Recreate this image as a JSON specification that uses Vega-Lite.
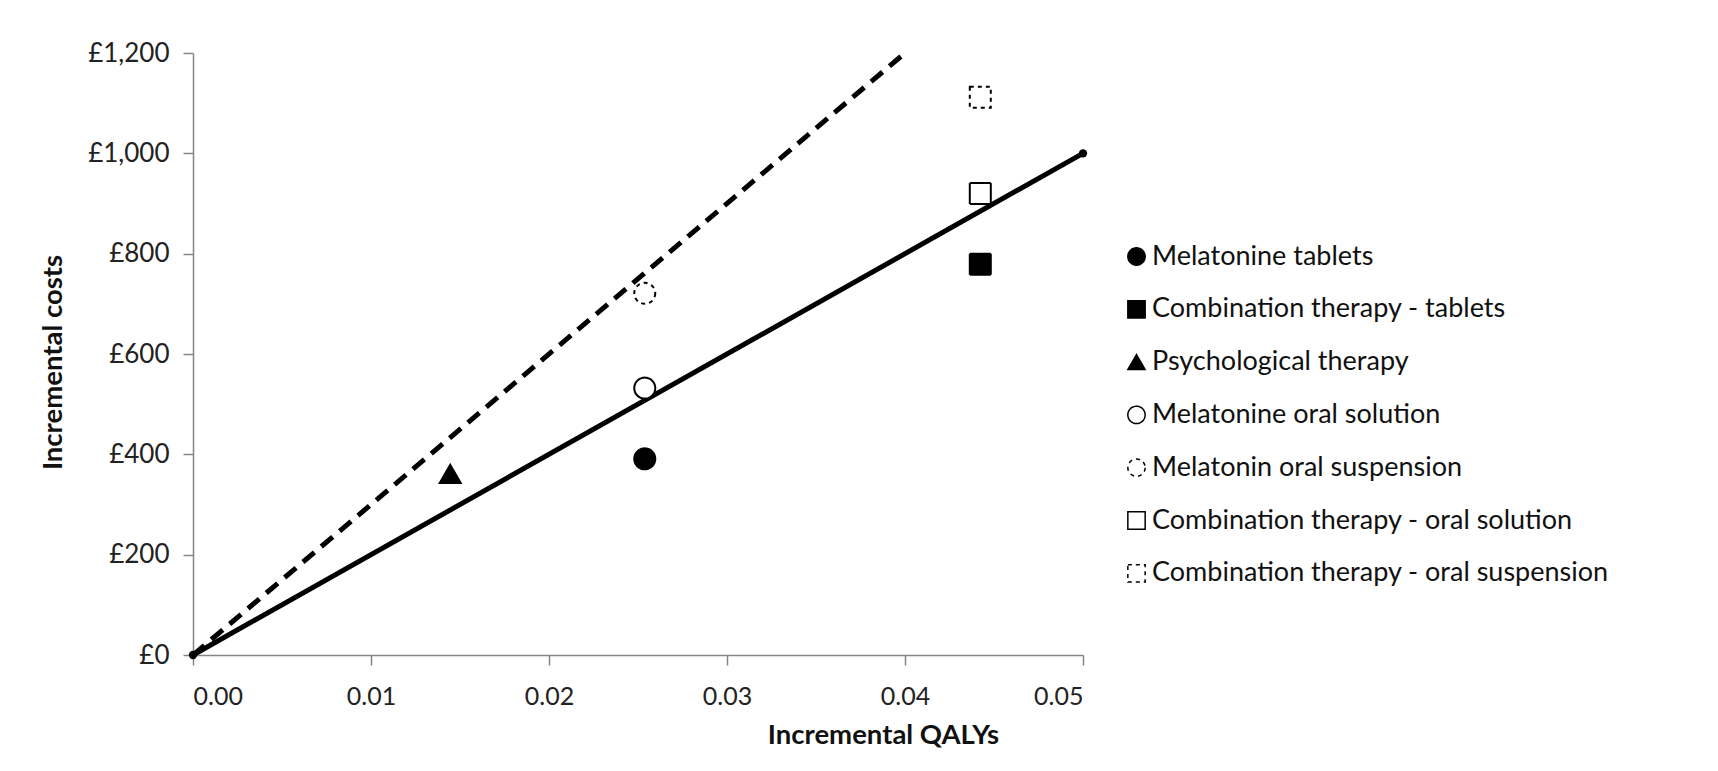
{
  "$schema": "https://vega.github.io/schema/vega-lite/v6.json",
  "autosize": "none",
  "width": 890,
  "height": 602,
  "padding": {"left": 193, "top": 53, "right": 635, "bottom": 116},
  "background": "white",
  "config": {
    "font": "Lato",
    "view": {"stroke": null},
    "axis": {
      "grid": false,
      "domainColor": "#868686",
      "domainWidth": 1.5,
      "tickColor": "#868686",
      "tickWidth": 1.5,
      "tickSize": 10,
      "labelFont": "Lato",
      "labelFontSize": 25,
      "labelColor": "#222222",
      "titleFont": "Lato",
      "titleFontSize": 27.5,
      "titleFontWeight": "bold",
      "titleColor": "#111111"
    },
    "legend": {
      "labelFont": "Lato",
      "labelFontSize": 27,
      "labelColor": "#111111",
      "labelLimit": 0
    }
  },
  "datasets": {
    "points": [
      {"series": "Melatonine tablets", "qaly": 0.02538, "cost": 391},
      {"series": "Combination therapy - tablets", "qaly": 0.04423, "cost": 779},
      {"series": "Psychological therapy", "qaly": 0.01445, "cost": 361},
      {"series": "Melatonine oral solution", "qaly": 0.02538, "cost": 532},
      {"series": "Melatonin oral suspension", "qaly": 0.02538, "cost": 721},
      {"series": "Combination therapy - oral solution", "qaly": 0.04423, "cost": 920},
      {"series": "Combination therapy - oral suspension", "qaly": 0.04423, "cost": 1112}
    ],
    "lines": [
      {"threshold": "20000", "qaly": 0, "cost": 0},
      {"threshold": "20000", "qaly": 0.05, "cost": 1000},
      {"threshold": "30000", "qaly": 0, "cost": 0},
      {"threshold": "30000", "qaly": 0.04, "cost": 1200}
    ]
  },
  "layer": [
    {
      "data": {"name": "lines"},
      "transform": [{"filter": "datum.threshold == '30000'"}],
      "mark": {"type": "line", "color": "black", "strokeWidth": 5, "strokeDash": [15, 9], "clip": true},
      "encoding": {
        "x": {"field": "qaly", "type": "quantitative", "scale": {"domain": [0, 0.05], "nice": false},
          "axis": {"title": "Incremental QALYs", "values": [0, 0.01, 0.02, 0.03, 0.04, 0.05], "format": ".2f", "labelPadding": 19, "titleX": 690, "titleY": 80, "titleBaseline": "middle"}},
        "y": {"field": "cost", "type": "quantitative", "scale": {"domain": [0, 1200], "nice": false},
          "axis": {"title": "Incremental costs", "values": [0, 200, 400, 600, 800, 1000, 1200], "labelExpr": "'£' + format(datum.value, ',.0f')", "labelPadding": 14, "labelFontSize": 26, "titleX": -140, "titleY": 309, "titleBaseline": "middle"}}
      }
    },
    {
      "data": {"name": "lines"},
      "transform": [{"filter": "datum.threshold == '20000'"}],
      "mark": {"type": "line", "color": "black", "strokeWidth": 5},
      "encoding": {
        "x": {"field": "qaly", "type": "quantitative"},
        "y": {"field": "cost", "type": "quantitative"}
      }
    },
    {
      "data": {"name": "lines"},
      "transform": [{"filter": "datum.threshold == '20000'"}],
      "mark": {"type": "point", "filled": true, "color": "black", "size": 70, "opacity": 1},
      "encoding": {
        "x": {"field": "qaly", "type": "quantitative"},
        "y": {"field": "cost", "type": "quantitative"}
      }
    },
    {
      "data": {"name": "points"},
      "mark": {"type": "point", "filled": true, "stroke": "black", "strokeWidth": 2, "size": 441, "opacity": 1},
      "encoding": {
        "x": {"field": "qaly", "type": "quantitative"},
        "y": {"field": "cost", "type": "quantitative"},
        "shape": {"field": "series", "type": "nominal",
          "scale": {"domain": ["Melatonine tablets", "Combination therapy - tablets", "Psychological therapy", "Melatonine oral solution", "Melatonin oral suspension", "Combination therapy - oral solution", "Combination therapy - oral suspension"],
            "range": ["circle", "square", "triangle-up", "circle", "circle", "square", "square"]},
          "legend": {"title": null, "orient": "none", "legendX": 930, "legendY": 190, "padding": 0, "rowPadding": 24.8, "symbolSize": 300, "labelOffset": 2,
            "encode": {"symbols": {"update": {"stroke": {"value": "black"}, "strokeWidth": {"value": 1.5}}}}}},
        "fill": {"field": "series", "type": "nominal",
          "scale": {"domain": ["Melatonine tablets", "Combination therapy - tablets", "Psychological therapy", "Melatonine oral solution", "Melatonin oral suspension", "Combination therapy - oral solution", "Combination therapy - oral suspension"],
            "range": ["black", "black", "black", "white", "white", "white", "white"]},
          "legend": {"title": null, "orient": "none", "legendX": 930, "legendY": 190, "padding": 0, "rowPadding": 24.8, "symbolSize": 300, "labelOffset": 2,
            "encode": {"symbols": {"update": {"stroke": {"value": "black"}, "strokeWidth": {"value": 1.5}}}}}},
        "strokeDash": {"field": "series", "type": "nominal",
          "scale": {"domain": ["Melatonine tablets", "Combination therapy - tablets", "Psychological therapy", "Melatonine oral solution", "Melatonin oral suspension", "Combination therapy - oral solution", "Combination therapy - oral suspension"],
            "range": [[1, 0], [1, 0], [1, 0], [1, 0], [4, 4], [1, 0], [4, 4]]},
          "legend": {"title": null, "orient": "none", "legendX": 930, "legendY": 190, "padding": 0, "rowPadding": 24.8, "symbolSize": 300, "labelOffset": 2,
            "encode": {"symbols": {"update": {"stroke": {"value": "black"}, "strokeWidth": {"value": 1.5}}}}}}
      }
    }
  ]
}
